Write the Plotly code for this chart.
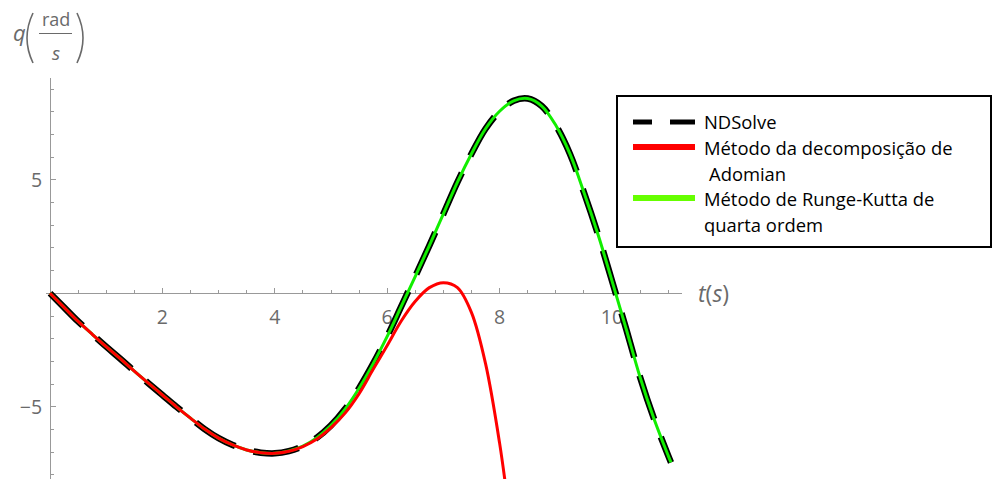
import plotly.graph_objects as go

W, H = 998, 479

# ---------------- data ----------------
t_ndsolve = [0, 0.25, 0.5, 0.75, 1.0, 1.25, 1.5, 1.75, 2.0, 2.25, 2.5, 2.75, 3.0, 3.25,
             3.5, 3.75, 4.0, 4.25, 4.5, 4.75, 5.0, 5.25, 5.5, 5.75, 6.0, 6.25, 6.5, 6.75,
             7.0, 7.25, 7.5, 7.75, 8.0, 8.25, 8.5, 8.75, 9.0, 9.25, 9.5, 9.75, 10.0,
             10.25, 10.5, 10.75, 11.0, 11.05]
q_ndsolve = [0, -0.62, -1.24, -1.80, -2.35, -2.88, -3.43, -3.96, -4.48, -5.00, -5.50, -5.98,
             -6.38, -6.68, -6.90, -7.02, -7.05, -6.95, -6.73, -6.36, -5.82, -5.10, -4.18,
             -3.10, -1.90, -0.58, 0.75, 2.10, 3.50, 4.90, 6.15, 7.25, 8.02, 8.48, 8.58,
             8.25, 7.40, 6.15, 4.45, 2.60, 0.55, -1.55, -3.70, -5.55, -7.15, -7.45]

t_rk4 = [0, 0.25, 0.5, 0.75, 1.0, 1.25, 1.5, 1.75, 2.0, 2.25, 2.5, 2.75, 3.0, 3.25,
         3.5, 3.75, 4.0, 4.25, 4.5, 4.75, 5.0, 5.25, 5.5, 5.75, 6.0, 6.25, 6.5, 6.75,
         7.0, 7.25, 7.5, 7.75, 8.0, 8.25, 8.5, 8.75, 9.0, 9.25, 9.5, 9.75, 10.0,
         10.25, 10.5, 10.75, 11.0, 11.05]
q_rk4 = [0, -0.62, -1.24, -1.80, -2.35, -2.88, -3.43, -3.96, -4.48, -5.00, -5.50, -5.98,
         -6.38, -6.68, -6.90, -7.02, -7.05, -6.95, -6.73, -6.36, -5.82, -5.10, -4.18,
         -3.10, -1.90, -0.58, 0.75, 2.10, 3.50, 4.90, 6.15, 7.25, 8.02, 8.48, 8.58,
         8.25, 7.40, 6.15, 4.45, 2.60, 0.55, -1.55, -3.70, -5.55, -7.15, -7.45]

t_adomian = [0, 0.25, 0.5, 0.75, 1.0, 1.25, 1.5, 1.75, 2.0, 2.25, 2.5, 2.75, 3.0, 3.25,
             3.5, 3.75, 4.0, 4.25, 4.5, 4.75, 5.0, 5.25, 5.5, 5.75, 6.0, 6.25, 6.5, 6.75,
             7.0, 7.25, 7.5, 7.75, 8.0, 8.15]
q_adomian = [0, -0.62, -1.24, -1.80, -2.35, -2.88, -3.43, -3.96, -4.48, -5.00, -5.50, -5.98,
             -6.38, -6.68, -6.90, -7.02, -7.05, -6.96, -6.75, -6.42, -5.92, -5.28, -4.42,
             -3.35, -2.30, -1.22, -0.35, 0.25, 0.47, 0.25, -0.85, -3.10, -6.60, -9.30]

x_tick_vals = [2, 4, 6, 8, 10]
x_tick_text = ["2", "4", "6", "8", "10"]
y_tick_vals = [-5, 5]
y_tick_text = ["\u22125", "5"]

legend_labels = ["NDSolve", "Método da decomposição de", "Adomian",
                 "Método de Runge-Kutta de", "quarta ordem"]

# ---------------- layout geometry (pixels) ----------------
FONT = "Open Sans"
AX_GRAY = "#999999"
TXT_GRAY = "#6a6a6a"
X0_PX, PX_PER_T = 50.0, 56.2
Y0_PX, PX_PER_Q = 293.3, 22.7
XDOM = (46.0, 682.0)
YDOM = (78.0, 479.0)


def px(x):
    return x / W


def py(y):
    return 1 - y / H


x_range = [(XDOM[0] - X0_PX) / PX_PER_T, (XDOM[1] - X0_PX) / PX_PER_T]
y_range = [(Y0_PX - YDOM[1]) / PX_PER_Q, (Y0_PX - YDOM[0]) / PX_PER_Q]

fig = go.Figure()
fig.add_trace(go.Scatter(x=t_ndsolve, y=q_ndsolve, mode="lines", name="NDSolve",
                         line=dict(color="black", width=6.5, dash="46px,19px", shape="spline"),
                         showlegend=False, hoverinfo="skip"))
fig.add_trace(go.Scatter(x=t_rk4, y=q_rk4, mode="lines", name="Runge-Kutta",
                         line=dict(color="#11ee00", width=3, shape="spline"),
                         showlegend=False, hoverinfo="skip"))
fig.add_trace(go.Scatter(x=t_adomian, y=q_adomian, mode="lines", name="Adomian",
                         line=dict(color="#ff0000", width=3, shape="spline"),
                         showlegend=False, hoverinfo="skip"))

tickfont = dict(family=FONT, size=19.5, color=TXT_GRAY)

fig.update_layout(
    width=W, height=H,
    margin=dict(l=0, r=0, t=0, b=0),
    paper_bgcolor="white", plot_bgcolor="white",
    showlegend=False,
    xaxis=dict(domain=[px(XDOM[0]), px(XDOM[1])], range=x_range, anchor="free",
               position=py(Y0_PX), showline=True, linecolor=AX_GRAY, linewidth=1,
               ticks="inside", ticklen=5, tickwidth=1, tickcolor=AX_GRAY,
               tickmode="array", tickvals=x_tick_vals, ticktext=x_tick_text,
               tickfont=tickfont, ticklabelstandoff=6,
               showgrid=False, zeroline=False, layer="below traces",
               minor=dict(ticks="inside", ticklen=3, tickwidth=1, tickcolor=AX_GRAY,
                          tickmode="linear", tick0=0, dtick=0.5, showgrid=False)),
    yaxis=dict(domain=[py(YDOM[1]), py(YDOM[0])], range=y_range, anchor="free",
               position=px(X0_PX), showline=True, linecolor=AX_GRAY, linewidth=1,
               ticks="inside", ticklen=5, tickwidth=1, tickcolor=AX_GRAY,
               tickmode="array", tickvals=y_tick_vals, ticktext=y_tick_text,
               tickfont=tickfont, ticklabelstandoff=4,
               showgrid=False, zeroline=False, layer="below traces",
               minor=dict(ticks="inside", ticklen=3, tickwidth=1, tickcolor=AX_GRAY,
                          tickmode="linear", tick0=0, dtick=1, showgrid=False)),
)

shapes = []
annotations = []

# ---- axis labels ----
annotations.append(dict(xref="paper", yref="paper", x=px(696), y=py(293),
                        xanchor="left", yanchor="middle", showarrow=False,
                        text="<i>t</i>(<i>s</i>)",
                        font=dict(family=FONT, size=23, color=TXT_GRAY)))
# q( rad / s )
annotations.append(dict(xref="paper", yref="paper", x=px(19), y=py(32),
                        xanchor="center", yanchor="middle", showarrow=False,
                        text="<i>q</i>", font=dict(family=FONT, size=22, color=TXT_GRAY)))
annotations.append(dict(xref="paper", yref="paper", x=px(55.5), y=py(19),
                        xanchor="center", yanchor="middle", showarrow=False,
                        text="rad", font=dict(family=FONT, size=18, color=TXT_GRAY)))
annotations.append(dict(xref="paper", yref="paper", x=px(55.5), y=py(53),
                        xanchor="center", yanchor="middle", showarrow=False,
                        text="<i>s</i>", font=dict(family=FONT, size=19, color=TXT_GRAY)))


def P(x, y):
    return f"{px(x):.5f},{py(y):.5f}"


shapes.append(dict(type="path", xref="paper", yref="paper",
                   path=f"M {P(33, 13)} Q {P(21, 38)} {P(33, 63)}",
                   line=dict(color=TXT_GRAY, width=1.6)))
shapes.append(dict(type="path", xref="paper", yref="paper",
                   path=f"M {P(77, 13)} Q {P(89, 38)} {P(77, 63)}",
                   line=dict(color=TXT_GRAY, width=1.6)))
shapes.append(dict(type="line", xref="paper", yref="paper",
                   x0=px(39), x1=px(72), y0=py(33.5), y1=py(33.5),
                   line=dict(color=TXT_GRAY, width=1)))

# ---- legend box ----
shapes.append(dict(type="rect", xref="paper", yref="paper",
                   x0=px(617), x1=px(991), y0=py(96), y1=py(247),
                   line=dict(color="black", width=2), fillcolor="white", layer="above"))
sw = [(633, 652), (670, 695)]
for a, b in sw:
    shapes.append(dict(type="line", xref="paper", yref="paper", x0=px(a), x1=px(b),
                       y0=py(122), y1=py(122), line=dict(color="black", width=5)))
shapes.append(dict(type="line", xref="paper", yref="paper", x0=px(633), x1=px(695),
                   y0=py(147), y1=py(147), line=dict(color="#ff0000", width=6)))
shapes.append(dict(type="line", xref="paper", yref="paper", x0=px(633), x1=px(695),
                   y0=py(198), y1=py(198), line=dict(color="#66ff00", width=6)))

leg_pos = [(702, 122), (702, 147), (707, 173), (702, 198), (702, 224)]
for lab, (lx, ly) in zip(legend_labels, leg_pos):
    annotations.append(dict(xref="paper", yref="paper", x=px(lx), y=py(ly),
                            xanchor="left", yanchor="middle", showarrow=False,
                            text=lab, font=dict(family=FONT, size=18.4, color="black")))

fig.update_layout(shapes=shapes, annotations=annotations)

fig.write_html("out.html",
               config={"displayModeBar": False},
               post_script="document.body.style.margin='0';document.body.style.overflow='hidden';")
